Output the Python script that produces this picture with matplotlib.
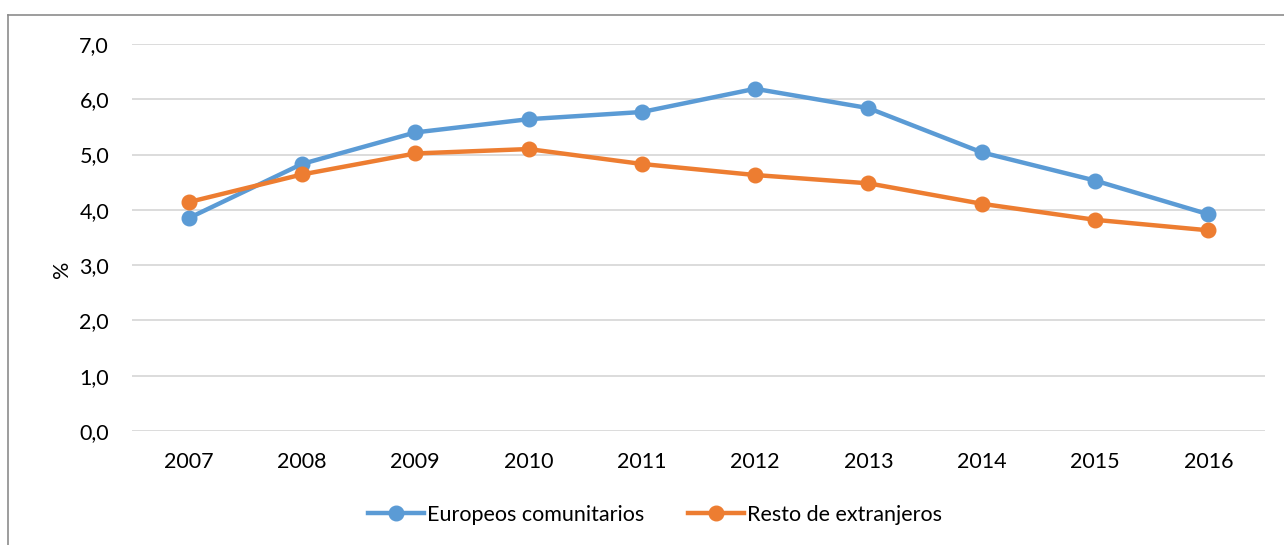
import numpy as np
import matplotlib.pyplot as plt
from matplotlib.lines import Line2D
from matplotlib.ticker import FuncFormatter

plt.rcParams['font.family'] = ['Lato', 'DejaVu Sans']

#%% data

years = ['2007', '2008', '2009', '2010', '2011', '2012', '2013', '2014', '2015', '2016']
europeos = [3.85, 4.83, 5.40, 5.64, 5.77, 6.19, 5.84, 5.04, 4.53, 3.92]
resto = [4.14, 4.64, 5.02, 5.10, 4.83, 4.63, 4.48, 4.11, 3.82, 3.63]
yticks = [0, 1, 2, 3, 4, 5, 6, 7]

blue = '#5B9BD5'
orange = '#ED7D31'
fs = 15.5

#%% plot

fig = plt.figure(figsize=(12.84, 5.45), dpi=100)
ax = fig.add_axes([132/1284, 1 - 431/545, (1265 - 132)/1284, (431 - 44)/545])

x = np.arange(len(years))
ax.plot(x, europeos, color=blue, linewidth=3.2, marker='o', markersize=10.5,
        label='Europeos comunitarios', solid_capstyle='round', zorder=3)
ax.plot(x, resto, color=orange, linewidth=3.2, marker='o', markersize=10.5,
        label='Resto de extranjeros', solid_capstyle='round', zorder=3)

ax.set_xlim(-0.5, len(years) - 0.5)
ax.set_ylim(0, 7)
ax.set_xticks(x)
ax.set_xticklabels(years)
ax.set_yticks(yticks)
ax.yaxis.set_major_formatter(FuncFormatter(lambda v, p: f'{v:.1f}'.replace('.', ',')))

ax.grid(axis='y', color='#D9D9D9', linewidth=1.3)
ax.set_axisbelow(True)
for s in ax.spines.values():
    s.set_visible(False)
ax.tick_params(axis='both', length=0, labelsize=fs, colors='#000000')
ax.tick_params(axis='x', pad=15)
ax.tick_params(axis='y', pad=16.5)

fig.text(62/1284, 1 - 269/545, '%', rotation=90, ha='center', va='center', fontsize=fs)

handles = [Line2D([], [], color=blue, linewidth=3.2, marker='o', markersize=10.5),
           Line2D([], [], color=orange, linewidth=3.2, marker='o', markersize=10.5)]
fig.legend(handles, ['Europeos comunitarios', 'Resto de extranjeros'],
           loc='center', bbox_to_anchor=(655/1284, 1 - 515/545), ncol=2,
           frameon=False, fontsize=fs, handlelength=2.6, handletextpad=0.15,
           columnspacing=2.0)

# partial chart frame (top and left edges)
fig.add_artist(Line2D([8/1284, 1], [1 - 15/545, 1 - 15/545], color='#8C8C8C', linewidth=1.2))
fig.add_artist(Line2D([8/1284, 8/1284], [0, 1 - 15/545], color='#8C8C8C', linewidth=1.2))

fig.savefig('out.png', dpi=100)
